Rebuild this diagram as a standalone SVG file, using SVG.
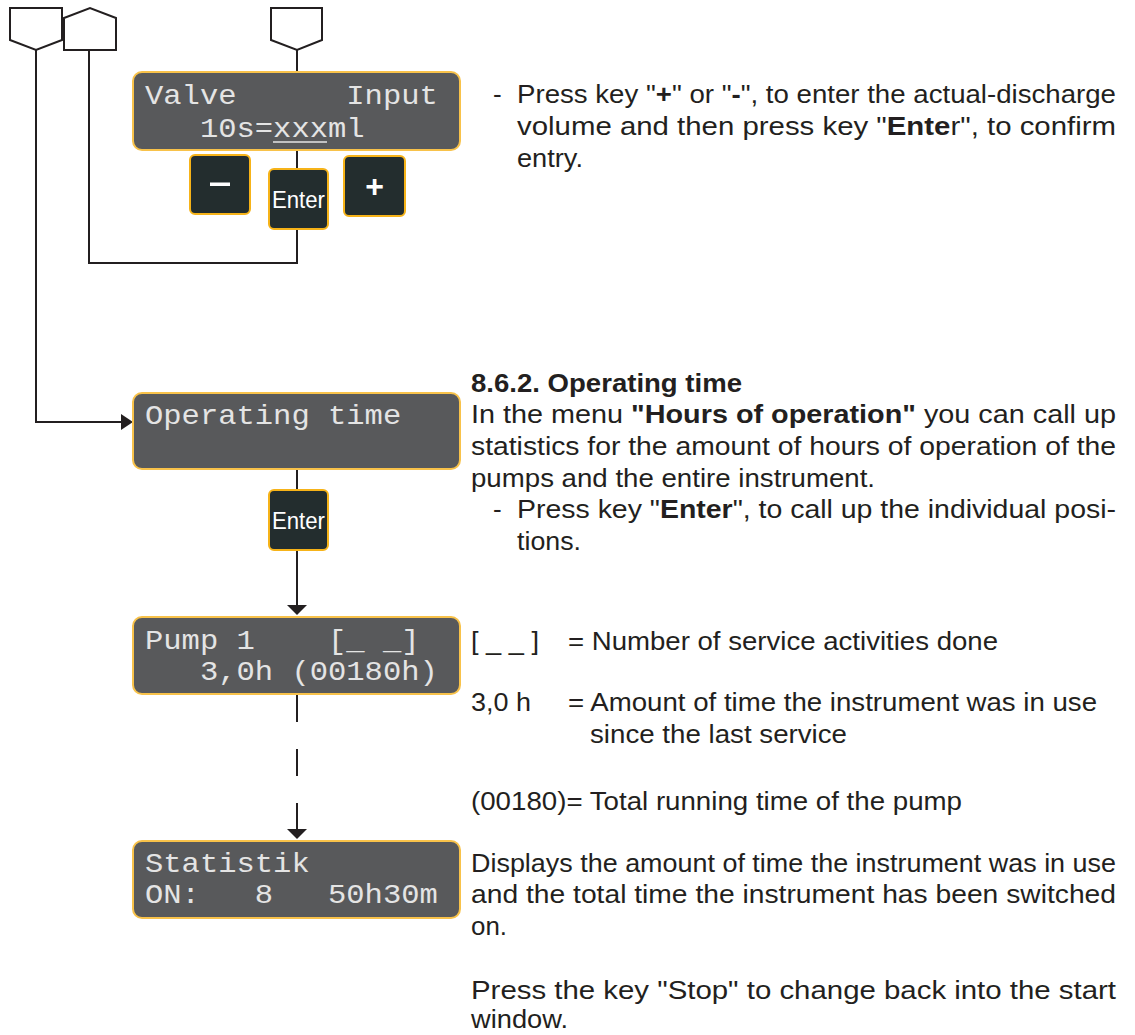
<svg xmlns="http://www.w3.org/2000/svg" width="1135" height="1035" viewBox="0 0 1135 1035">
<style>
.t{font-family:"Liberation Sans",Arial,sans-serif;font-size:26px;fill:#231f20}
.b{font-weight:bold}
.lcd{font-family:"Liberation Mono","Courier New",monospace;font-size:28px;fill:#e4e4e4}
.box{fill:#58595b;stroke:#f8c24a;stroke-width:2}
.btn{fill:#232d2e;stroke:#f6b319;stroke-width:2}
.key{font-family:"Liberation Sans",Arial,sans-serif;fill:#ffffff;text-anchor:middle}
.pent{fill:#ffffff;stroke:#231f20;stroke-width:2}
.ln{fill:none;stroke:#231f20;stroke-width:2}
.ah{fill:#231f20}
</style>
<rect width="1135" height="1035" fill="#ffffff"/>

<g id="connectors">
  <polyline class="ln" points="36,50 36,422 123,422"/>
  <polygon class="ah" points="121,414 133,422 121,430"/>
  <polyline class="ln" points="89,50 89,263 297,263 297,229"/>
  <line class="ln" x1="297" y1="50" x2="297" y2="72"/>
  <line class="ln" x1="297" y1="150" x2="297" y2="169"/>
  <line class="ln" x1="297" y1="469" x2="297" y2="490"/>
  <line class="ln" x1="297" y1="550" x2="297" y2="606"/>
  <polygon class="ah" points="287,605 297,615 307,605"/>
  <line class="ln" x1="297" y1="695" x2="297" y2="722"/>
  <line class="ln" x1="297" y1="749" x2="297" y2="776"/>
  <line class="ln" x1="297" y1="803" x2="297" y2="830"/>
  <polygon class="ah" points="287,829 297,839 307,829"/>
</g>

<g id="connector-1">
  <polygon class="pent" points="10,8 62,8 62,40 36,50 10,40"/>
</g>
<g id="connector-2">
  <polygon class="pent" points="64,50 116,50 116,18 90,8 64,18"/>
</g>
<g id="connector-3">
  <polygon class="pent" points="271,8 322,8 322,40 297,50 271,40"/>
</g>

<g id="valve-input">
  <rect class="box" x="133" y="72" width="327" height="78" rx="9"/>
  <text class="lcd" x="145" y="104" xml:space="preserve" textLength="292.8" lengthAdjust="spacingAndGlyphs">Valve      Input</text>
  <text class="lcd" x="145" y="137" xml:space="preserve" textLength="219.6" lengthAdjust="spacingAndGlyphs">   10s=xxxml</text>
  <line x1="273" y1="142" x2="327" y2="142" stroke="#e4e4e4" stroke-width="1.5"/>
</g>

<g id="key-minus">
  <rect class="btn" x="190" y="155" width="60" height="59" rx="5"/>
  <rect x="210" y="182.5" width="20" height="3.5" fill="#ffffff"/>
</g>
<g id="key-enter-1">
  <rect class="btn" x="269" y="169" width="59" height="60" rx="5"/>
  <text class="key" x="298.5" y="208" font-size="24" textLength="53" lengthAdjust="spacingAndGlyphs">Enter</text>
</g>
<g id="key-plus">
  <rect class="btn" x="344" y="156" width="61" height="60" rx="5"/>
  <text class="key b" x="374.5" y="197" font-size="32">+</text>
</g>

<g id="operating-time">
  <rect class="box" x="133" y="393" width="327" height="76" rx="9"/>
  <text class="lcd" x="145" y="424" xml:space="preserve" textLength="256.2" lengthAdjust="spacingAndGlyphs">Operating time</text>
</g>
<g id="key-enter-2">
  <rect class="btn" x="269" y="490" width="59" height="60" rx="5"/>
  <text class="key" x="298.5" y="529" font-size="24" textLength="53" lengthAdjust="spacingAndGlyphs">Enter</text>
</g>

<g id="pump-1">
  <rect class="box" x="133" y="617" width="327" height="77" rx="9"/>
  <text class="lcd" x="145" y="649" xml:space="preserve" textLength="274.5" lengthAdjust="spacingAndGlyphs">Pump 1    [_ _]</text>
  <text class="lcd" x="145" y="680" xml:space="preserve" textLength="292.8" lengthAdjust="spacingAndGlyphs">   3,0h (00180h)</text>
</g>

<g id="statistik">
  <rect class="box" x="133" y="841" width="327" height="77" rx="9"/>
  <text class="lcd" x="145" y="872" xml:space="preserve" textLength="164.7" lengthAdjust="spacingAndGlyphs">Statistik</text>
  <text class="lcd" x="145" y="903" xml:space="preserve" textLength="292.8" lengthAdjust="spacingAndGlyphs">ON:   8   50h30m</text>
</g>

<g id="text">
  <text class="t" x="493" y="103">-</text>
  <text class="t" x="517" y="103" textLength="599" lengthAdjust="spacingAndGlyphs">Press key "<tspan class="b">+</tspan>" or "<tspan class="b">-</tspan>", to enter the actual-discharge</text>
  <text class="t" x="517" y="135" textLength="599" lengthAdjust="spacingAndGlyphs">volume and then press key "<tspan class="b">Ente</tspan>r", to confirm</text>
  <text class="t" x="517" y="167" textLength="66" lengthAdjust="spacingAndGlyphs">entry.</text>

  <text class="t b" x="471" y="392" textLength="271" lengthAdjust="spacingAndGlyphs">8.6.2. Operating time</text>
  <text class="t" x="471" y="423" textLength="645" lengthAdjust="spacingAndGlyphs">In the menu <tspan class="b">"Hours of operation"</tspan> you can call up</text>
  <text class="t" x="471" y="455" textLength="645" lengthAdjust="spacingAndGlyphs">statistics for the amount of hours of operation of the</text>
  <text class="t" x="471" y="487" textLength="404" lengthAdjust="spacingAndGlyphs">pumps and the entire instrument.</text>
  <text class="t" x="493" y="518">-</text>
  <text class="t" x="517" y="518" textLength="599" lengthAdjust="spacingAndGlyphs">Press key "<tspan class="b">Enter</tspan>", to call up the individual posi-</text>
  <text class="t" x="517" y="550" textLength="64" lengthAdjust="spacingAndGlyphs">tions.</text>

  <text class="t" x="471" y="650" textLength="68" lengthAdjust="spacingAndGlyphs">[ _ _ ]</text>
  <text class="t" x="568" y="650" textLength="430" lengthAdjust="spacingAndGlyphs">= Number of service activities done</text>

  <text class="t" x="471" y="711" textLength="60" lengthAdjust="spacingAndGlyphs">3,0 h</text>
  <text class="t" x="568" y="711" textLength="529" lengthAdjust="spacingAndGlyphs">= Amount of time the instrument was in use</text>
  <text class="t" x="590" y="743" textLength="257" lengthAdjust="spacingAndGlyphs">since the last service</text>

  <text class="t" x="471" y="810" textLength="491" lengthAdjust="spacingAndGlyphs">(00180)= Total running time of the pump</text>

  <text class="t" x="471" y="872" textLength="645" lengthAdjust="spacingAndGlyphs">Displays the amount of time the instrument was in use</text>
  <text class="t" x="471" y="903" textLength="645" lengthAdjust="spacingAndGlyphs">and the total time the instrument has been switched</text>
  <text class="t" x="471" y="935" textLength="36" lengthAdjust="spacingAndGlyphs">on.</text>

  <text class="t" x="471" y="999" textLength="645" lengthAdjust="spacingAndGlyphs">Press the key "Stop" to change back into the start</text>
  <text class="t" x="471" y="1028" textLength="97" lengthAdjust="spacingAndGlyphs">window.</text>
</g>
</svg>
